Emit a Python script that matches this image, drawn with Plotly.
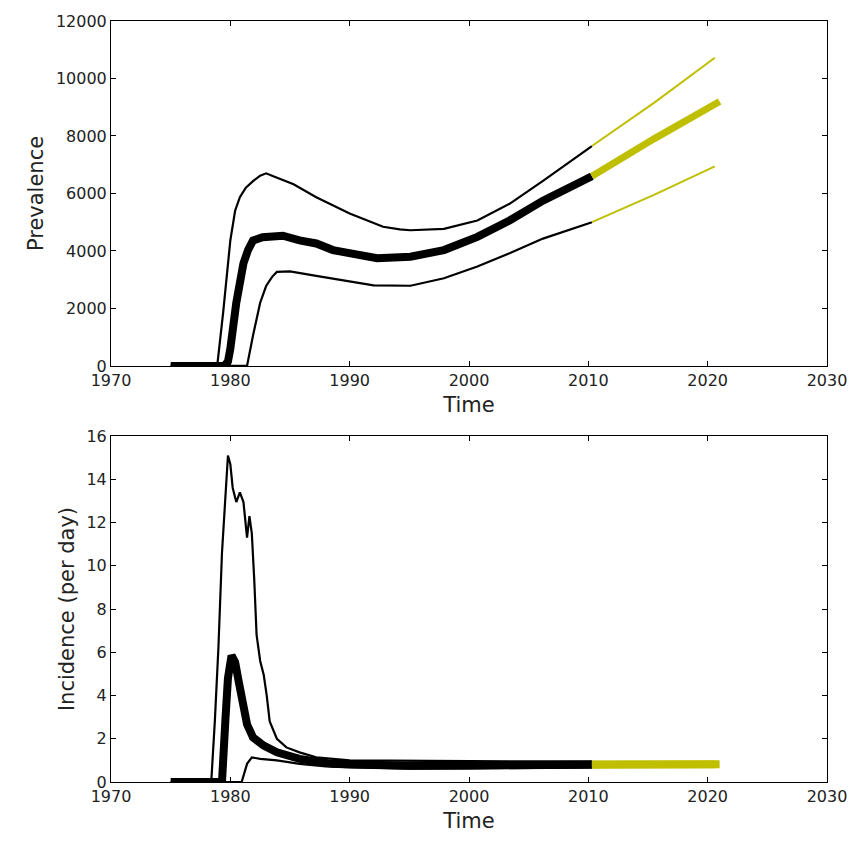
import plotly.graph_objects as go

# ---------------- Prevalence (top) ----------------
prev_med_years = [1975, 1979.5, 1979.8, 1980.0, 1980.5, 1981.1, 1981.5, 1981.9, 1982.7, 1983.5,
                  1984.4, 1985.8, 1987.2, 1988.6, 1990.0, 1992.3, 1995.1, 1997.9, 2000.7, 2003.4,
                  2006.2, 2010.3]
prev_med = [0, 0, 150, 600, 2200, 3570, 4050, 4360, 4480, 4530,
            4530, 4370, 4260, 4030, 3920, 3750, 3800, 4030, 4490, 5060,
            5750, 6600]

prev_hi_years = [1975, 1978.9, 1979.4, 1980.0, 1980.4, 1980.8, 1981.3, 1981.9, 1982.5, 1983.0,
                 1983.6, 1984.2, 1985.3, 1987.2, 1990.0, 1992.8, 1994.2, 1995.1, 1997.9, 2000.7,
                 2003.4, 2006.2, 2009.3, 2010.3]
prev_hi = [0, 0, 1860, 4370, 5400, 5870, 6200, 6430, 6620, 6700,
           6600, 6500, 6320, 5870, 5300, 4840, 4750, 4720, 4770, 5060,
           5640, 6440, 7350, 7650]

prev_lo_years = [1975, 1981.4, 1981.9, 1982.5, 1983.0, 1983.5, 1983.9, 1985.0, 1987.2, 1990.0,
                 1992.0, 1995.1, 1997.9, 2000.7, 2003.4, 2006.2, 2010.3]
prev_lo = [0, 0, 1060, 2200, 2780, 3100, 3270, 3290, 3130, 2950,
           2800, 2790, 3050, 3460, 3920, 4430, 5000]

proj_med_years = [2010.3, 2015.5, 2021.0]
proj_prev_med = [6600, 7900, 9200]
proj_bound_years = [2010.3, 2015.5, 2020.6]
proj_prev_hi = [7650, 9150, 10720]
proj_prev_lo = [5000, 5950, 6940]

# ---------------- Incidence (bottom) ----------------
inc_hi_years = [1975, 1978.4, 1978.7, 1979.0, 1979.3, 1979.6, 1979.8, 1980.0, 1980.2, 1980.5,
                1980.8, 1981.1, 1981.4, 1981.6, 1981.8, 1982.0, 1982.2, 1982.5, 1982.8, 1983.05,
                1983.3, 1983.9, 1984.7, 1985.8, 1987.2, 1990.0, 1995.0, 2000.0, 2005.0, 2010.3]
inc_hi = [0, 0, 2.8, 6.2, 10.6, 13.2, 15.1, 14.7, 13.6, 12.95,
          13.4, 12.95, 11.3, 12.3, 11.5, 9.4, 6.8, 5.6, 4.95, 4.0,
          2.8, 2.0, 1.6, 1.37, 1.14, 1.0, 0.98, 0.95, 0.95, 0.95]

inc_med_years = [1975, 1979.3, 1979.6, 1979.8, 1980.1, 1980.4, 1980.7, 1981.0, 1981.4, 1981.9,
                 1982.8, 1983.9, 1985.8, 1988.6, 1991.4, 1995.0, 2000.0, 2005.0, 2010.3]
inc_med = [0, 0, 3.0, 4.8, 5.85, 5.55, 4.65, 3.74, 2.67, 2.06,
           1.68, 1.37, 1.07, 0.84, 0.78, 0.75, 0.76, 0.78, 0.8]

inc_lo_years = [1975, 1980.95, 1981.4, 1981.8, 1982.5, 1983.9, 1985.8, 1988.0, 1990.0, 1995.0,
                2000.0, 2005.0, 2010.3]
inc_lo = [0, 0, 0.84, 1.14, 1.07, 1.0, 0.84, 0.72, 0.68, 0.62, 0.63, 0.66, 0.68]

proj_inc_med = [0.8, 0.82, 0.82]
proj_inc_hi = [0.95, 0.95, 0.95]
proj_inc_lo = [0.68, 0.68, 0.68]

x_ticks = [1970, 1980, 1990, 2000, 2010, 2020, 2030]
prev_ticks = [0, 2000, 4000, 6000, 8000, 10000, 12000]
inc_ticks = [0, 2, 4, 6, 8, 10, 12, 14, 16]

BLACK = "#000000"
YELLOW = "#bfbf00"

fig = go.Figure()


def add(x, y, color, width, axis):
    fig.add_trace(go.Scatter(x=x, y=y, mode="lines",
                             line=dict(color=color, width=width),
                             xaxis="x" if axis == 1 else "x2",
                             yaxis="y" if axis == 1 else "y2",
                             showlegend=False, hoverinfo="skip"))


# top
add(prev_hi_years, prev_hi, BLACK, 2.2, 1)
add(prev_lo_years, prev_lo, BLACK, 2.2, 1)
add(prev_med_years, prev_med, BLACK, 8, 1)
add(proj_bound_years, proj_prev_hi, YELLOW, 2, 1)
add(proj_bound_years, proj_prev_lo, YELLOW, 2, 1)
add(proj_med_years, proj_prev_med, YELLOW, 7, 1)

# bottom
add(inc_hi_years, inc_hi, BLACK, 2.2, 2)
add(inc_lo_years, inc_lo, BLACK, 2.2, 2)
add(inc_med_years, inc_med, BLACK, 8, 2)
add(proj_bound_years, proj_inc_hi, YELLOW, 2, 2)
add(proj_bound_years, proj_inc_lo, YELLOW, 2, 2)
add(proj_med_years, proj_inc_med, YELLOW, 8, 2)

FONT = "DejaVu Sans"
common_x = dict(range=[1970, 2030], tickvals=x_ticks, ticktext=[str(v) for v in x_ticks],
                ticks="inside", ticklen=5,
                showline=True, linecolor="black", linewidth=1, mirror="ticks",
                showgrid=False, zeroline=False, tickcolor="black",
                tickfont=dict(family=FONT, size=16, color="#222"),
                title=dict(text="Time", font=dict(family=FONT, size=21, color="#222"), standoff=8))
common_y = dict(ticks="inside", ticklen=5, showline=True, linecolor="black", linewidth=1,
                mirror="ticks", showgrid=False, zeroline=False, tickcolor="black",
                tickfont=dict(family=FONT, size=16, color="#222"))

top_lo = (785 - 364) / 770
bot_hi = (785 - 435) / 770

fig.update_layout(
    width=867, height=841,
    margin=dict(l=111, r=40, t=15, b=56),
    plot_bgcolor="white", paper_bgcolor="white",
    xaxis=dict(**common_x, anchor="y", domain=[0, 1]),
    yaxis=dict(**common_y, range=[0, 12000], tickvals=prev_ticks,
               ticktext=[str(v) for v in prev_ticks],
               domain=[top_lo, 1], anchor="x",
               title=dict(text="Prevalence", font=dict(family=FONT, size=21, color="#222"), standoff=6)),
    xaxis2=dict(**common_x, anchor="y2", domain=[0, 1]),
    yaxis2=dict(**common_y, range=[0, 16], tickvals=inc_ticks,
                ticktext=[str(v) for v in inc_ticks],
                domain=[0, bot_hi], anchor="x2",
                title=dict(text="Incidence (per day)", font=dict(family=FONT, size=21, color="#222"), standoff=6)),
)

fig.write_html("out.html")
